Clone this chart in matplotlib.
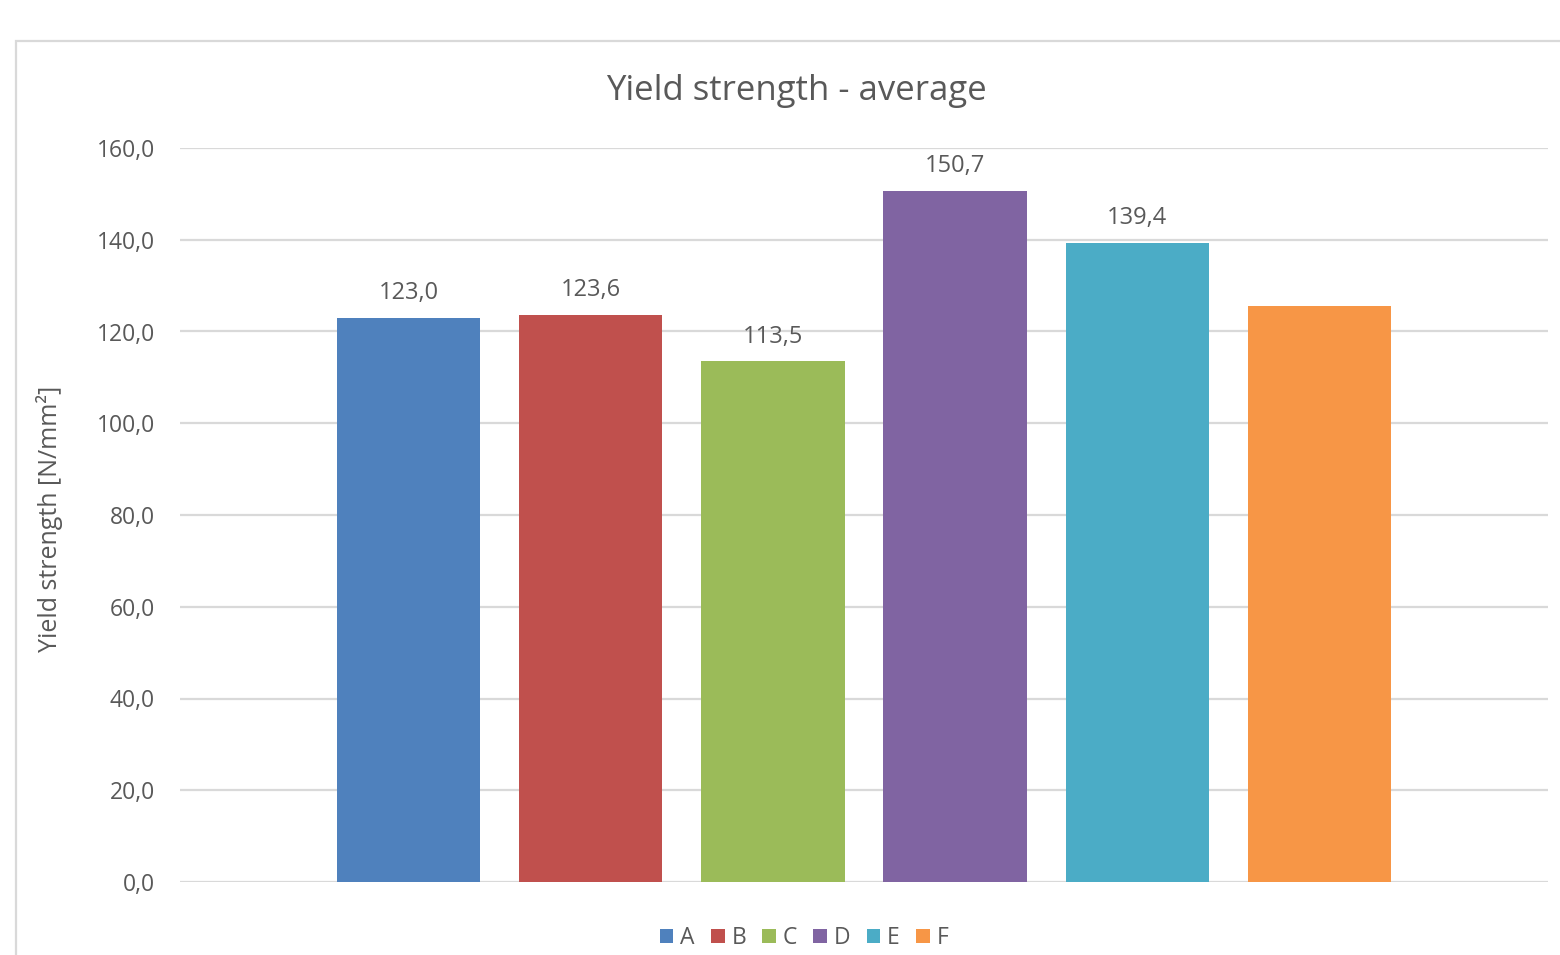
import matplotlib
matplotlib.use("Agg")
import matplotlib.pyplot as plt
from matplotlib.patches import Rectangle, Patch
from matplotlib.ticker import FuncFormatter

series = ["A", "B", "C", "D", "E", "F"]
values = [123.0, 123.6, 113.5, 150.7, 139.4, 125.6]
show_label = [True, True, True, True, True, False]
colors = ["#4F81BD", "#C0504D", "#9BBB59", "#8064A2", "#4BACC6", "#F79646"]
yticks = [0, 20, 40, 60, 80, 100, 120, 140, 160]

plt.rcParams['font.family'] = ['Open Sans', 'DejaVu Sans']
txt = "#595959"

W, H = 1560, 955
fig = plt.figure(figsize=(W / 100, H / 100), dpi=100)
fig.patch.set_facecolor("white")

# outer chart border
fig.patches.append(Rectangle((16 / W, -0.1), 1.2, (H - 41) / H + 0.1, transform=fig.transFigure,
                             fill=False, edgecolor="#D9D9D9", linewidth=1.6))

ax = fig.add_axes([180 / W, 1 - 882 / H, (1548 - 180) / W, (882 - 148) / H])
x = list(range(len(series)))
bars = ax.bar(x, values, width=0.786, color=colors, zorder=3)
ax.set_xlim(-1.254, 6.254)
ax.set_ylim(0, 160)
ax.set_yticks(yticks)
ax.yaxis.set_major_formatter(FuncFormatter(lambda v, p: f"{v:.1f}".replace(".", ",")))
ax.grid(axis="y", color="#D9D9D9", linewidth=1.6, zorder=0)
ax.set_xticks([])
for s in ax.spines.values():
    s.set_visible(False)
ax.tick_params(axis="y", length=0, pad=18, labelsize=16.5, labelcolor=txt)

for b, v, sh in zip(bars, values, show_label):
    if sh:
        ax.annotate(f"{v:.1f}".replace(".", ","), (b.get_x() + b.get_width() / 2, v),
                    xytext=(0, 9), textcoords="offset points", ha="center", va="bottom",
                    fontsize=17, color=txt)

ax.set_ylabel("Yield strength [N/mm²]", fontsize=18, color=txt)
ax.yaxis.set_label_coords((63 - 180) / 1368, (882 - 519) / 734)

fig.text(796 / W, 1 - 91 / H, "Yield strength - average", ha="center", va="center",
         fontsize=25, color=txt)

handles = [Patch(facecolor=c, edgecolor="none", label=s) for s, c in zip(series, colors)]
fig.legend(handles=handles, loc="center", bbox_to_anchor=(804 / W, 1 - 938 / H), ncol=6,
           frameon=False, fontsize=16.5, handlelength=0.6, handleheight=0.6, handletextpad=0.3,
           columnspacing=0.7, labelcolor=txt)

fig.savefig("out.png", dpi=100)
